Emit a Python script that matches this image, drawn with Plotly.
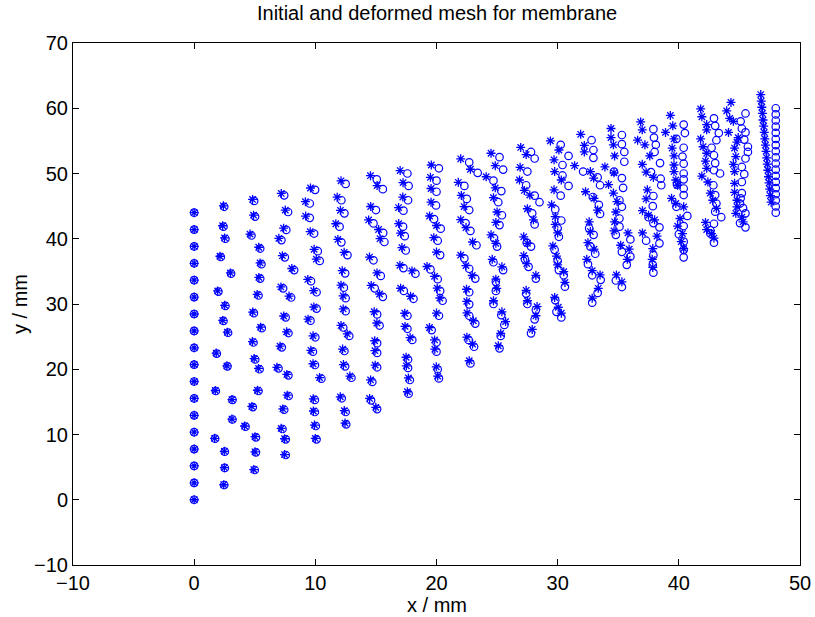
import plotly.graph_objects as go

# ---- data (one list per mesh column) ----
init_x = [
    [0, 0, 0, 0, 0, 0, 0, 0, 0, 0, 0, 0, 0, 0, 0, 0, 0, 0],
    [2.48, 2.53, 2.53, 1.73, 3.16, 3.16, 1.79, 2.75, 1.87, 2.8, 2.42, 2.58, 2.0, 3.05, 2.2, 2.58, 2.42, 2.48],
    [5.0, 5.1, 5.1, 4.24, 4.84, 5.31, 5.4, 5.04, 4.9, 5.58, 4.93, 5.31, 5.45, 5.55, 5.45, 4.73, 5.03, 4.95],
    [7.56, 7.56, 7.29, 7.43, 7.8, 7.78, 6.96, 7.23, 7.78, 7.55, 8.0, 7.34, 8.25, 7.48, 7.2, 7.6, 7.75, 7.43],
    [10.1, 10.04, 9.96, 9.96, 10.5, 9.97, 9.8, 10.0, 9.6, 10.1, 10.1, 9.64, 10.36, 10.2, 9.9, 9.54, 9.54, 9.98],
    [12.55, 12.5, 12.18, 12.98, 12.46, 12.4, 12.8, 12.3, 12.5, 12.5, 12.35, 12.46, 12.65, 12.15, 12.0, 12.4, 12.15, 12.5],
    [15.1, 14.6, 14.7, 15.1, 15.1, 15.1, 15.3, 15.1, 15.57, 14.9, 15.4, 14.8, 15.7, 15.6, 14.8, 15.0, 15.57, 15.07],
    [17.7, 17.8, 17.65, 17.65, 18.0, 17.6, 17.6, 18.1, 17.3, 18.26, 17.27, 17.46, 17.38, 17.24, 17.27, 17.65, 17.7, 17.6],
    [20.2, 20.1, 20.0, 20.0, 19.6, 20.2, 20.5, 20.3, 20.1, 19.5, 20.3, 20.1, 20.35, 19.8, 19.96, 20.0, 20.0, 20.2],
    [22.8, 23.1, 22.65, 23.2, 22.7, 22.7, 22.7, 23.2, 22.7, 22.3, 23.3, 22.8, 22.4, 22.7, 22.5, 22.3, 23.4, 22.7],
    [25.2, 25.3, 25.6, 25.35, 24.7, 24.9, 24.9, 25.5, 24.7, 25.0, 24.75, 25.2, 25.4, 25.1, 25.35, 24.7, 25.5, 25.2],
    [27.8, 28.1, 28.2, 27.5, 27.4, 28.2, 27.6, 27.3, 27.8, 27.45, 28.1, 27.9, 28.5, 28.1, 27.4, 27.5, 28.1, 27.8],
    [30.3, 29.9, 29.8, 30.6, 30.5, 30.1, 30.0, 29.75, 30.1, 30.0, 30.3, 29.8, 30.25, 30.9, 30.4, 30.4, 30.9, 30.25],
    [32.85, 33.3, 33.55, 32.85, 32.5, 33.1, 32.7, 32.97, 32.6, 33.5, 33.4, 32.9, 33.5, 33.3, 32.1, 32.95, 32.95, 32.8],
    [35.3, 34.8, 35.7, 36.0, 35.3, 36.0, 34.8, 35.1, 35.1, 35.3, 35.1, 35.4, 35.3, 34.65, 35.5, 35.5, 35.3, 35.3],
    [37.9, 37.85, 37.9, 38.4, 37.3, 38.4, 37.9, 37.5, 37.85, 37.9, 38.55, 38.5, 37.7, 38.45, 38.0, 38.1, 37.95, 37.9],
    [40.4, 40.4, 40.4, 40.0, 40.4, 40.7, 39.8, 40.4, 40.4, 39.85, 40.4, 40.4, 40.4, 40.3, 40.4, 39.8, 40.5, 40.4],
    [42.9, 42.6, 42.6, 42.9, 43.5, 43.0, 43.1, 43.0, 42.85, 43.4, 42.9, 43.0, 42.9, 42.7, 43.1, 43.3, 43.0, 42.9],
    [45.5, 45.05, 45.5, 45.3, 45.05, 45.1, 45.2, 45.2, 45.4, 45.2, 45.5, 45.7, 45.7, 45.4, 45.5, 45.2, 45.1, 45.5],
    [48, 48, 48, 48, 48, 48, 48, 48, 48, 48, 48, 48, 48, 48, 48, 48, 48, 48],
]
init_y = [
    [0, 2.59, 5.18, 7.76, 10.35, 12.94, 15.53, 18.12, 20.71, 23.29, 25.88, 28.47, 31.06, 33.65, 36.24, 38.82, 41.41, 44.0],
    [2.26, 4.87, 7.37, 9.36, 12.3, 15.3, 16.67, 20.45, 22.4, 25.6, 27.4, 29.7, 31.9, 34.65, 37.2, 40.0, 41.85, 44.9],
    [4.56, 7.27, 9.57, 11.2, 14.2, 16.67, 20.0, 21.5, 24.1, 26.3, 28.6, 31.3, 33.9, 36.1, 38.5, 40.5, 43.4, 45.8],
    [6.86, 9.26, 10.84, 13.8, 15.9, 19.07, 20.14, 23.36, 25.55, 27.96, 31.0, 32.4, 35.2, 37.15, 39.8, 41.35, 44.1, 46.65],
    [9.26, 11.3, 13.45, 15.3, 18.55, 20.65, 22.7, 24.9, 27.45, 29.3, 31.8, 33.5, 36.6, 38.1, 40.8, 43.2, 45.4, 47.5],
    [11.56, 13.45, 15.55, 18.7, 20.45, 22.8, 25.1, 26.4, 28.9, 30.9, 32.5, 34.7, 37.5, 39.45, 41.85, 43.9, 45.9, 48.4],
    [13.9, 15.24, 18.05, 20.3, 22.5, 24.0, 26.7, 28.4, 31.1, 32.4, 34.3, 36.7, 39.5, 40.9, 42.35, 44.4, 47.6, 49.1],
    [16.25, 18.35, 20.2, 21.5, 24.5, 26.2, 28.2, 30.8, 32.0, 34.65, 35.5, 38.2, 40.4, 41.85, 44.3, 45.9, 48.1, 50.0],
    [18.6, 20.0, 22.7, 24.1, 26.0, 28.2, 30.5, 32.0, 33.8, 35.3, 37.5, 39.7, 41.55, 43.0, 45.1, 47.2, 48.9, 50.8],
    [20.9, 23.45, 24.5, 27.0, 28.2, 29.95, 31.8, 33.9, 35.4, 37.0, 39.0, 41.2, 42.4, 44.4, 46.1, 48.1, 50.1, 51.7],
    [23.2, 25.1, 26.8, 28.3, 30.0, 32.0, 33.4, 35.2, 36.4, 38.8, 40.1, 42.1, 43.6, 45.6, 47.3, 48.9, 50.6, 52.5],
    [25.5, 27.65, 29.1, 30.0, 31.6, 33.9, 35.7, 36.85, 38.8, 39.4, 42.2, 43.9, 45.6, 46.6, 48.2, 50.3, 52.3, 53.3],
    [27.95, 28.8, 30.6, 32.65, 34.4, 35.2, 36.6, 38.3, 40.3, 41.6, 42.8, 44.5, 46.6, 48.1, 49.7, 51.3, 52.7, 54.4],
    [30.2, 31.7, 33.7, 34.4, 36.1, 37.7, 38.8, 40.6, 41.6, 43.8, 45.2, 46.4, 48.2, 49.4, 50.3, 52.4, 53.6, 55.1],
    [32.6, 33.6, 36.0, 37.25, 38.0, 39.9, 40.6, 41.85, 43.1, 44.9, 45.9, 47.8, 49.3, 50.3, 51.8, 53.3, 54.5, 55.9],
    [34.8, 36.0, 37.5, 39.3, 39.7, 41.75, 42.4, 43.3, 45.0, 46.55, 48.2, 49.2, 50.2, 51.6, 53.3, 54.4, 55.5, 56.8],
    [37.15, 38.3, 39.55, 40.7, 41.95, 43.5, 44.9, 46.7, 47.7, 48.3, 49.1, 50.0, 51.5, 52.6, 53.95, 55.3, 56.2, 57.5],
    [39.4, 40.8, 41.3, 42.3, 43.3, 44.15, 45.4, 46.7, 48.2, 50.0, 50.5, 51.6, 52.8, 53.95, 55.1, 56.2, 57.3, 58.45],
    [41.75, 42.4, 43.9, 44.7, 45.4, 46.2, 47.0, 48.7, 49.9, 51.0, 52.3, 53.3, 54.1, 55.2, 56.3, 56.9, 58.0, 59.2],
    [44.0, 44.94, 45.88, 46.82, 47.76, 48.71, 49.65, 50.59, 51.53, 52.47, 53.41, 54.35, 55.29, 56.24, 57.18, 58.12, 59.06, 60.0],
]
def_x = [
    [0, 0, 0, 0, 0, 0, 0, 0, 0, 0, 0, 0, 0, 0, 0, 0, 0, 0],
    [2.44, 2.49, 2.49, 1.69, 3.12, 3.12, 1.74, 2.7, 1.82, 2.74, 2.36, 2.52, 1.94, 2.99, 2.13, 2.51, 2.35, 2.41],
    [4.92, 5.02, 5.02, 4.16, 4.76, 5.22, 5.31, 4.95, 4.81, 5.48, 4.83, 5.2, 5.34, 5.44, 5.33, 4.61, 4.9, 4.82],
    [7.46, 7.46, 7.18, 7.32, 7.68, 7.65, 6.83, 7.09, 7.63, 7.39, 7.83, 7.16, 8.06, 7.28, 6.99, 7.38, 7.52, 7.19],
    [10.0, 9.93, 9.84, 9.83, 10.35, 9.81, 9.63, 9.81, 9.4, 9.88, 9.86, 9.38, 10.08, 9.9, 9.58, 9.2, 9.18, 9.6],
    [12.45, 12.39, 12.06, 12.85, 12.32, 12.25, 12.63, 12.12, 12.3, 12.29, 12.12, 12.22, 12.38, 11.86, 11.69, 12.07, 11.8, 12.12],
    [14.99, 14.48, 14.56, 14.94, 14.92, 14.9, 15.08, 14.86, 15.3, 14.61, 15.09, 14.47, 15.34, 15.22, 14.4, 14.57, 15.1, 14.55],
    [17.6, 17.68, 17.51, 17.49, 17.82, 17.4, 17.38, 17.86, 17.04, 17.98, 16.98, 17.15, 17.04, 16.88, 16.87, 17.22, 17.24, 17.0],
    [20.1, 19.98, 19.86, 19.84, 19.42, 20.0, 20.28, 20.06, 19.84, 19.22, 20.0, 19.78, 20.0, 19.43, 19.55, 19.55, 19.5, 19.57],
    [22.7, 22.98, 22.51, 23.04, 22.52, 22.5, 22.48, 22.95, 22.43, 22.0, 22.98, 22.44, 22.0, 22.28, 22.05, 21.8, 22.8, 22.0],
    [25.1, 25.3, 25.7, 25.4, 24.7, 24.97, 24.9, 25.4, 24.6, 24.9, 24.5, 24.9, 25.0, 24.7, 24.85, 24.1, 24.85, 24.5],
    [27.9, 28.2, 28.3, 27.5, 27.4, 28.2, 27.45, 27.2, 27.5, 27.2, 28.0, 27.5, 27.7, 27.25, 26.85, 26.9, 27.4, 26.95],
    [30.3, 30.05, 29.75, 30.6, 30.5, 30.0, 29.9, 29.6, 30.0, 29.8, 29.8, 29.5, 29.7, 30.3, 29.75, 29.7, 30.1, 29.4],
    [32.85, 33.35, 33.5, 32.85, 32.4, 33.0, 32.5, 32.7, 32.6, 33.3, 33.0, 32.3, 32.97, 32.7, 31.4, 32.2, 32.2, 31.9],
    [35.3, 34.85, 35.75, 35.9, 35.2, 35.8, 34.65, 34.7, 34.8, 34.9, 34.6, 34.2, 34.65, 33.9, 34.7, 34.6, 34.4, 34.4],
    [37.85, 37.8, 37.85, 38.2, 37.0, 38.0, 37.5, 37.0, 37.3, 37.4, 37.9, 37.3, 36.98, 37.6, 37.2, 36.6, 36.98, 36.85],
    [40.4, 40.2, 40.3, 39.9, 40.1, 40.4, 39.75, 39.4, 39.9, 39.75, 39.6, 39.6, 39.6, 39.45, 39.6, 38.9, 39.5, 39.3],
    [42.9, 42.7, 42.3, 42.2, 43.1, 42.8, 42.6, 42.4, 41.9, 42.3, 42.2, 42.3, 42.0, 41.8, 42.3, 42.3, 41.9, 41.8],
    [45.3, 45.2, 44.7, 44.8, 44.8, 44.6, 44.6, 44.6, 44.5, 44.7, 44.6, 44.8, 44.9, 44.1, 44.5, 44.2, 43.95, 44.3],
    [47.62, 47.55, 47.5, 47.45, 47.4, 47.35, 47.3, 47.25, 47.2, 47.15, 47.1, 47.05, 47.0, 46.95, 46.9, 46.85, 46.8, 46.76],
]
def_y = [
    [0, 2.59, 5.18, 7.76, 10.35, 12.94, 15.53, 18.12, 20.71, 23.29, 25.88, 28.47, 31.06, 33.65, 36.24, 38.82, 41.41, 44.0],
    [2.3, 4.92, 7.42, 9.41, 12.36, 15.36, 16.74, 20.52, 22.48, 25.68, 27.49, 29.8, 32.0, 34.76, 37.32, 40.13, 41.99, 45.05],
    [4.62, 7.35, 9.66, 11.3, 14.3, 16.78, 20.12, 21.63, 24.24, 26.45, 28.76, 31.47, 34.08, 36.29, 38.7, 40.71, 43.62, 46.03],
    [6.93, 9.35, 10.94, 13.92, 16.03, 19.21, 20.3, 23.53, 25.73, 28.16, 31.21, 32.62, 35.44, 37.4, 40.06, 41.62, 44.39, 46.95],
    [9.4, 11.45, 13.6, 15.47, 18.73, 20.84, 22.9, 25.12, 27.68, 29.54, 32.05, 33.76, 36.87, 38.38, 41.08, 43.48, 45.68, 47.78],
    [11.75, 13.66, 15.78, 18.95, 20.72, 23.09, 25.41, 26.72, 29.24, 31.26, 32.88, 35.1, 37.92, 39.89, 42.3, 44.36, 46.37, 48.88],
    [14.17, 15.53, 18.36, 20.63, 22.85, 24.37, 27.09, 28.81, 31.53, 32.85, 34.77, 37.19, 40.01, 41.42, 42.88, 44.94, 48.15, 49.66],
    [16.55, 18.67, 20.53, 21.84, 24.86, 26.57, 28.58, 31.19, 32.41, 35.07, 35.93, 38.64, 40.86, 42.32, 44.78, 46.39, 48.6, 50.45],
    [18.95, 20.37, 23.08, 24.49, 26.4, 28.61, 30.92, 32.43, 34.24, 35.75, 37.96, 40.17, 42.03, 43.49, 45.6, 47.7, 49.41, 51.3],
    [21.3, 23.86, 24.92, 27.43, 28.64, 30.4, 32.26, 34.37, 35.88, 37.49, 39.5, 41.71, 42.92, 44.93, 46.64, 48.65, 50.65, 52.25],
    [23.6, 25.5, 27.3, 28.8, 30.5, 32.4, 33.8, 35.7, 36.85, 39.3, 40.6, 42.5, 44.1, 46.3, 47.8, 49.5, 51.2, 53.1],
    [26.1, 28.2, 29.6, 30.5, 32.1, 34.4, 36.2, 37.4, 39.3, 40.3, 42.9, 44.6, 46.7, 47.4, 49.0, 50.95, 52.9, 54.0],
    [28.6, 29.5, 31.0, 33.3, 34.95, 36.0, 37.35, 38.9, 40.9, 42.2, 43.4, 45.2, 47.5, 49.0, 50.3, 52.1, 53.6, 55.0],
    [30.9, 32.4, 34.45, 35.1, 36.85, 38.4, 39.4, 41.1, 42.6, 44.4, 46.2, 47.2, 49.3, 50.3, 51.2, 53.3, 54.3, 56.0],
    [33.4, 34.45, 36.85, 38.4, 39.0, 40.9, 41.2, 42.6, 44.1, 45.7, 47.0, 48.3, 50.1, 51.0, 52.7, 54.4, 55.5, 56.9],
    [35.6, 36.85, 38.5, 40.4, 40.9, 42.9, 43.6, 44.3, 46.1, 47.5, 49.4, 50.2, 51.4, 52.7, 54.4, 55.1, 56.7, 57.9],
    [38.5, 39.55, 40.8, 41.95, 43.1, 44.9, 45.4, 46.2, 48.2, 49.0, 50.3, 51.3, 52.7, 53.9, 55.3, 56.3, 57.3, 58.9],
    [40.1, 40.8, 41.4, 42.5, 44.65, 45.9, 47.0, 48.7, 49.6, 50.8, 51.9, 53.1, 54.1, 55.3, 56.7, 57.5, 58.7, 59.9],
    [42.6, 43.3, 43.9, 44.9, 45.9, 47.1, 48.5, 50.3, 51.4, 52.6, 53.9, 54.8, 55.5, 56.3, 58.0, 58.45, 59.6, 60.9],
    [45.6, 46.6, 47.6, 48.55, 49.5, 50.5, 51.45, 52.4, 53.4, 54.35, 55.3, 56.3, 57.25, 58.2, 59.2, 60.15, 61.1, 62.1],
]
x_ticks = [-10, 0, 10, 20, 30, 40, 50]
y_ticks = [-10, 0, 10, 20, 30, 40, 50, 60, 70]
tick_text_x = ["\u221210", "0", "10", "20", "30", "40", "50"]
tick_text_y = ["\u221210", "0", "10", "20", "30", "40", "50", "60", "70"]

BLUE = "#0000FF"
FONT = "Liberation Sans, Arial, sans-serif"
FS = 20

def flat(cols):
    return [v for col in cols for v in col]

fig = go.Figure()
fig.add_trace(go.Scatter(
    x=flat(init_x), y=flat(init_y), mode="markers", name="initial",
    marker=dict(symbol="circle-open", size=7.5, color=BLUE, line=dict(width=1.2, color=BLUE)),
))
fig.add_trace(go.Scatter(
    x=flat(def_x), y=flat(def_y), mode="markers", name="deformed",
    marker=dict(symbol="asterisk-open", size=7.5, color=BLUE, line=dict(width=1.3, color=BLUE)),
))

axis_common = dict(
    showgrid=False, zeroline=False, showline=True, linecolor="black", linewidth=1,
    mirror="ticks", ticks="inside", ticklen=6, tickwidth=1, tickcolor="black",
    automargin=False,
    tickfont=dict(family=FONT, size=FS, color="black"),
)
fig.update_xaxes(range=[-10, 50], tickvals=x_ticks, ticktext=tick_text_x, **axis_common)
fig.update_yaxes(range=[-10, 70], tickvals=y_ticks, ticktext=tick_text_y, **axis_common)

fig.update_layout(
    width=815, height=617,
    margin=dict(l=73, r=15, t=43, b=52),
    paper_bgcolor="white", plot_bgcolor="white",
    showlegend=False,
    font=dict(family=FONT, color="black"),
    annotations=[
        dict(text="Initial and deformed mesh for membrane", xref="paper", yref="paper",
             x=0.5, y=1, yshift=17, xanchor="center", yanchor="bottom", showarrow=False,
             font=dict(family=FONT, size=FS, color="black")),
        dict(text="x / mm", xref="paper", yref="paper", x=0.5, y=0, yshift=-27,
             xanchor="center", yanchor="top", showarrow=False,
             font=dict(family=FONT, size=FS, color="black")),
        dict(text="y / mm", xref="paper", yref="paper", x=0, y=0.5, xshift=-40,
             xanchor="right", yanchor="middle", textangle=-90, showarrow=False,
             font=dict(family=FONT, size=FS, color="black")),
    ],
)
fig.write_html(
    "out.html",
    config={"displayModeBar": False},
    post_script="document.body.style.margin='0px';document.body.style.overflow='hidden';",
)
